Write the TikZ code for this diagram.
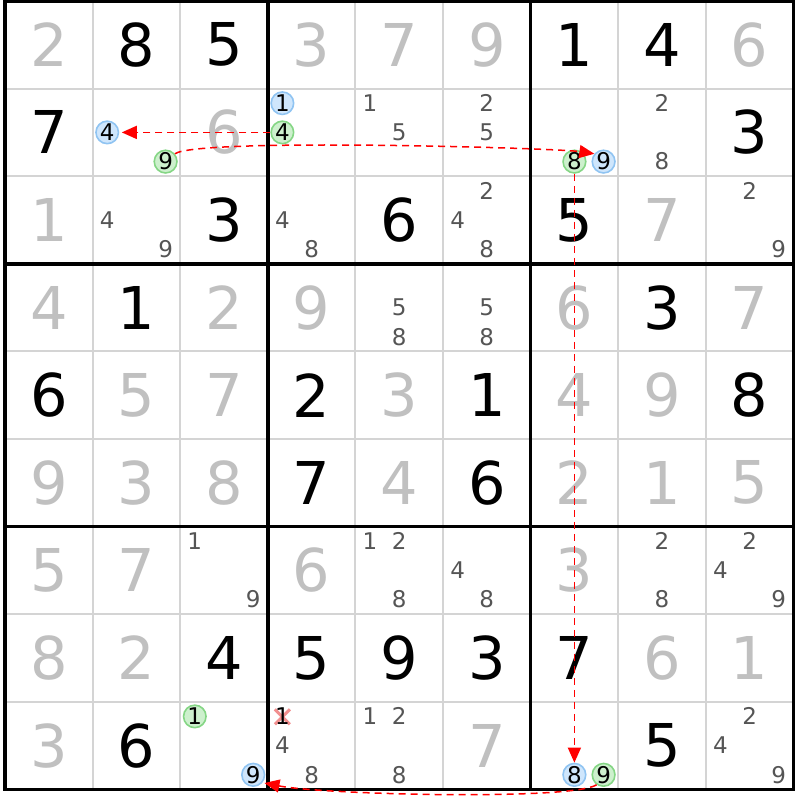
\documentclass[tikz,border=0pt]{standalone}
\usepackage{fontspec}
\setmainfont{DejaVu Sans}
\usetikzlibrary{arrows.meta}
\definecolor{solvedgray}{HTML}{C0C0C0}
\definecolor{candgray}{HTML}{555555}
\definecolor{gridgray}{HTML}{D4D4D4}
\definecolor{bluefill}{HTML}{CFE6FC}
\definecolor{blueborder}{HTML}{90C4F2}
\definecolor{greenfill}{HTML}{CDF0CD}
\definecolor{greenborder}{HTML}{85D685}
\definecolor{xpink}{HTML}{F29090}
\newcommand\gv[3]{\node[givendig] (d#1#2) at ({5+(#2-0.5)*87.6},{1+(#1-0.5)*87.6}) {#3};}
\newcommand\sv[3]{\node[solveddig] (d#1#2) at ({5+(#2-0.5)*87.6},{1+(#1-0.5)*87.6}) {#3};}
\newcommand\cnd[4][canddig]{\node[#1] (c#2#3-#4) at ({5+(#3-0.5)*87.6+(mod(#4-1,3)-1)*29.2},{1+(#2-0.5)*87.6+(floor((#4-1)/3)-1)*29.2}) {#4};}
\begin{document}
\begin{tikzpicture}[x=1pt,y=-1pt,
  bigdig/.style={font=\fontsize{59}{59}\selectfont, inner sep=0pt},
  givendig/.style={bigdig, text=black},
  solveddig/.style={bigdig, text=solvedgray},
  canddig/.style={font=\fontsize{23}{23}\selectfont, inner sep=0pt, text=candgray},
  markdig/.style={canddig, text=black},
  bluecand/.style={canddig, text=black, circle, draw=blueborder, fill=bluefill, line width=1.6pt, minimum size=22.5pt},
  greencand/.style={canddig, text=black, circle, draw=greenborder, fill=greenfill, line width=1.6pt, minimum size=22.5pt},
  thinline/.style={draw=gridgray, line width=2pt},
  thickline/.style={draw=black, line width=3.5pt},
  xmark/.style={draw=xpink, line width=3pt},
  link/.style={draw=red, line width=1.5pt, dash pattern=on 7pt off 5pt, -{Triangle[length=15pt,width=13pt]}},
]
\useasboundingbox (0,0) rectangle (800,800);
\fill[white] (0,0) rectangle (800,800);
% grid
\foreach \i in {1,2,4,5,7,8}{
  \draw[thinline] ({5+\i*87.6},1) -- ({5+\i*87.6},789.4);
  \draw[thinline] (5,{1+\i*87.6}) -- (793.4,{1+\i*87.6});
}
\foreach \i in {0,3,6,9}{
  \draw[thickline] ({5+\i*87.6},-0.7) -- ({5+\i*87.6},791.1);
  \draw[thickline] (3.3,{1+\i*87.6}) -- (795.1,{1+\i*87.6});
}
% row 1
\sv11{2}\gv12{8}\gv13{5}\sv14{3}\sv15{7}\sv16{9}\gv17{1}\gv18{4}\sv19{6}
% row 2
\gv21{7}\cnd[bluecand]22{4}\cnd[greencand]22{9}\sv23{6}
\cnd[bluecand]24{1}\cnd[greencand]24{4}
\cnd25{1}\cnd25{5}\cnd26{2}\cnd26{5}
\cnd[greencand]27{8}\cnd[bluecand]27{9}
\cnd28{2}\cnd28{8}\gv29{3}
% row 3
\sv31{1}\cnd32{4}\cnd32{9}\gv33{3}\cnd34{4}\cnd34{8}\gv35{6}
\cnd36{2}\cnd36{4}\cnd36{8}\gv37{5}\sv38{7}\cnd39{2}\cnd39{9}
% row 4
\sv41{4}\gv42{1}\sv43{2}\sv44{9}\cnd45{5}\cnd45{8}\cnd46{5}\cnd46{8}\sv47{6}\gv48{3}\sv49{7}
% row 5
\gv51{6}\sv52{5}\sv53{7}\gv54{2}\sv55{3}\gv56{1}\sv57{4}\sv58{9}\gv59{8}
% row 6
\sv61{9}\sv62{3}\sv63{8}\gv64{7}\sv65{4}\gv66{6}\sv67{2}\sv68{1}\sv69{5}
% row 7
\sv71{5}\sv72{7}\cnd73{1}\cnd73{9}\sv74{6}\cnd75{1}\cnd75{2}\cnd75{8}
\cnd76{4}\cnd76{8}\sv77{3}\cnd78{2}\cnd78{8}\cnd79{2}\cnd79{4}\cnd79{9}
% row 8
\sv81{8}\sv82{2}\gv83{4}\gv84{5}\gv85{9}\gv86{3}\gv87{7}\sv88{6}\sv89{1}
% row 9
\sv91{3}\gv92{6}\cnd[greencand]93{1}\cnd[bluecand]93{9}
\coordinate (x94) at (282.4,716.8);
\draw[xmark] ([shift={(-7.5,-7.5)}]x94) -- ([shift={(7.5,7.5)}]x94);
\draw[xmark] ([shift={(-7.5,7.5)}]x94) -- ([shift={(7.5,-7.5)}]x94);
\cnd[markdig]94{1}\cnd94{4}\cnd94{8}
\cnd95{1}\cnd95{2}\cnd95{8}\sv96{7}
\cnd[bluecand]97{8}\cnd[greencand]97{9}\gv98{5}\cnd99{2}\cnd99{4}\cnd99{9}
% links
\draw[link, shorten >=2.5pt] (c24-4) -- (c22-4);
\draw[link] (c22-9.40) .. controls +(22,-16) and +(-40,-6) .. (c27-9.140);
\draw[link] (c27-8) -- (c97-8);
\draw[link, shorten >=2pt] (c97-9.235) .. controls +(-25,16) and +(60,12) .. (c93-9.-40);
\end{tikzpicture}
\end{document}
